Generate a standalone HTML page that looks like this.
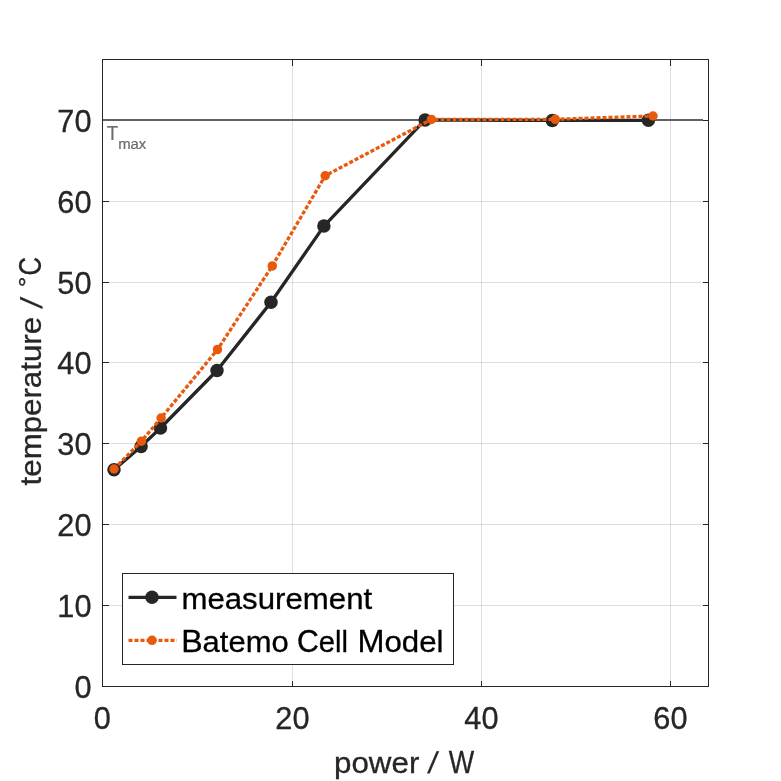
<!DOCTYPE html>
<html lang="en"><head><meta charset="utf-8"><title>temperature vs power</title>
<style>html,body{margin:0;padding:0;background:#fff}svg{display:block}svg{font-size:30.2px}text{font-family:"Liberation Sans",sans-serif;fill:#262626;stroke:#262626;stroke-width:0.3}.lg{fill:#000;stroke:#000}.tm{fill:#6b6b6b;stroke:#6b6b6b;stroke-width:.2}</style></head><body>
<svg width="781" height="781" viewBox="0 0 781 781">
<rect width="781" height="781" fill="#fff"/>
<path d="M292.5 59.5V686.5M481.5 59.5V686.5M670.5 59.5V686.5" stroke="#262626" stroke-opacity=".15" stroke-width="1" fill="none" shape-rendering="crispEdges"/>
<path d="M102.5 605.5H708.5M102.5 524.5H708.5M102.5 443.5H708.5M102.5 362.5H708.5M102.5 282.5H708.5M102.5 201.5H708.5" stroke="#262626" stroke-opacity=".15" stroke-width="1" fill="none" shape-rendering="crispEdges"/>
<path d="M292.5 686.5v-6M292.5 59.5v6M481.5 686.5v-6M481.5 59.5v6M670.5 686.5v-6M670.5 59.5v6M102.5 605.5h6M708.5 605.5h-6M102.5 524.5h6M708.5 524.5h-6M102.5 443.5h6M708.5 443.5h-6M102.5 362.5h6M708.5 362.5h-6M102.5 282.5h6M708.5 282.5h-6M102.5 201.5h6M708.5 201.5h-6M708.5 120.5h-6" stroke="#262626" stroke-width="1" fill="none" shape-rendering="crispEdges"/>
<path d="M102.5 120H703" stroke="#626262" stroke-width="2.1" fill="none"/>
<text class="tm"><tspan x="106.77" y="140.1" textLength="11.36" lengthAdjust="spacingAndGlyphs" font-size="19.5">T</tspan><tspan x="118.13" y="148.9" textLength="28.20" lengthAdjust="spacingAndGlyphs" font-size="15.2">max</tspan></text>
<path d="M114.0 469.85L141.1 446.4L160.5 428.0L217.0 370.5L271.0 302.3L323.9 226.1L425.1 119.9L552.3 120.4L648.4 120.3" stroke="#262626" stroke-width="3.3" fill="none" stroke-linejoin="round"/>
<g fill="#262626"><circle cx="114.0" cy="469.85" r="6.75"/><circle cx="141.1" cy="446.4" r="6.75"/><circle cx="160.5" cy="428.0" r="6.75"/><circle cx="217.0" cy="370.5" r="6.75"/><circle cx="271.0" cy="302.3" r="6.75"/><circle cx="323.9" cy="226.1" r="6.75"/><circle cx="425.1" cy="119.9" r="6.75"/><circle cx="552.3" cy="120.4" r="6.75"/><circle cx="648.4" cy="120.3" r="6.75"/></g>
<path d="M114.05 469.0L141.4 441.2L161.1 418.0L217.45 349.6L272.3 265.9L325.2 175.75L431.4 119.4L555.3 119.3L653.0 116.0" stroke="#e8590c" stroke-width="3.3" fill="none" stroke-dasharray="4 2" stroke-linejoin="round"/>
<g fill="#e8590c"><circle cx="114.05" cy="469.0" r="4.75"/><circle cx="141.4" cy="441.2" r="4.75"/><circle cx="161.1" cy="418.0" r="4.75"/><circle cx="217.45" cy="349.6" r="4.75"/><circle cx="272.3" cy="265.9" r="4.75"/><circle cx="325.2" cy="175.75" r="4.75"/><circle cx="431.4" cy="119.4" r="4.75"/><circle cx="555.3" cy="119.3" r="4.75"/><circle cx="653.0" cy="116.0" r="4.75"/></g>
<rect x="102.5" y="59.5" width="606.0" height="627.0" fill="none" stroke="#262626" stroke-width="1" shape-rendering="crispEdges"/>
<text x="102.4" y="728.7" font-size="31.4" text-anchor="middle" textLength="17.1" lengthAdjust="spacingAndGlyphs">0</text>
<text x="292.4" y="728.7" font-size="31.4" text-anchor="middle" textLength="34.2" lengthAdjust="spacingAndGlyphs">20</text>
<text x="481.4" y="728.7" font-size="31.4" text-anchor="middle" textLength="34.2" lengthAdjust="spacingAndGlyphs">40</text>
<text x="670.4" y="728.7" font-size="31.4" text-anchor="middle" textLength="34.2" lengthAdjust="spacingAndGlyphs">60</text>
<text x="91.55" y="698.1" font-size="31.4" text-anchor="end" textLength="17.1" lengthAdjust="spacingAndGlyphs">0</text>
<text x="91.55" y="617.1" font-size="31.4" text-anchor="end" textLength="34.2" lengthAdjust="spacingAndGlyphs">10</text>
<text x="91.55" y="536.1" font-size="31.4" text-anchor="end" textLength="34.2" lengthAdjust="spacingAndGlyphs">20</text>
<text x="91.55" y="455.1" font-size="31.4" text-anchor="end" textLength="34.2" lengthAdjust="spacingAndGlyphs">30</text>
<text x="91.55" y="374.1" font-size="31.4" text-anchor="end" textLength="34.2" lengthAdjust="spacingAndGlyphs">40</text>
<text x="91.55" y="294.1" font-size="31.4" text-anchor="end" textLength="34.2" lengthAdjust="spacingAndGlyphs">50</text>
<text x="91.55" y="213.1" font-size="31.4" text-anchor="end" textLength="34.2" lengthAdjust="spacingAndGlyphs">60</text>
<text x="91.55" y="132.1" font-size="31.4" text-anchor="end" textLength="34.2" lengthAdjust="spacingAndGlyphs">70</text>
<text><tspan x="334.06" y="772.6" textLength="85.29" lengthAdjust="spacingAndGlyphs">power</tspan></text> <text transform="translate(427.14 773.1) skewX(-8.79)" x="0" y="0">/</text> <text><tspan x="448.80" y="772.6" textLength="25.46" lengthAdjust="spacingAndGlyphs" font-size="31.3">W</tspan></text>
<g transform="translate(41 372) rotate(-90)"><text><tspan x="-113.45" y="0" textLength="168.54" lengthAdjust="spacingAndGlyphs">temperature</tspan></text> <text transform="translate(63.26 0.5) skewX(-9.24)" x="0" y="0">/</text> <text><tspan x="84.71" y="-5.8" textLength="10.85" lengthAdjust="spacingAndGlyphs" font-size="24.5">°</tspan><tspan x="96.59" y="0" textLength="18.52" lengthAdjust="spacingAndGlyphs" font-size="31.3">C</tspan></text></g>
<rect x="122.5" y="573.5" width="331" height="91" fill="#fff" stroke="#262626" stroke-width="1" shape-rendering="crispEdges"/>
<path d="M128.5 597.4H176.5" stroke="#262626" stroke-width="3.3"/><circle cx="152" cy="597.3" r="6.75" fill="#262626"/>
<path d="M128.5 640.4H176.8" stroke="#e8590c" stroke-width="3.3" stroke-dasharray="4 2"/><circle cx="152" cy="640.3" r="4.75" fill="#e8590c"/>
<text class="lg"><tspan x="181.41" y="608.5" textLength="190.75" lengthAdjust="spacingAndGlyphs">measurement</tspan></text>
<text class="lg"><tspan x="181.15" y="651.5" textLength="107.57" lengthAdjust="spacingAndGlyphs"><tspan font-size="31.3">B</tspan>atemo</tspan> <tspan x="296.95" y="651.5" textLength="51.06" lengthAdjust="spacingAndGlyphs"><tspan font-size="31.3">C</tspan>ell</tspan> <tspan x="357.45" y="651.5" textLength="86.12" lengthAdjust="spacingAndGlyphs"><tspan font-size="31.3">M</tspan>odel</tspan></text>
</svg></body></html>
